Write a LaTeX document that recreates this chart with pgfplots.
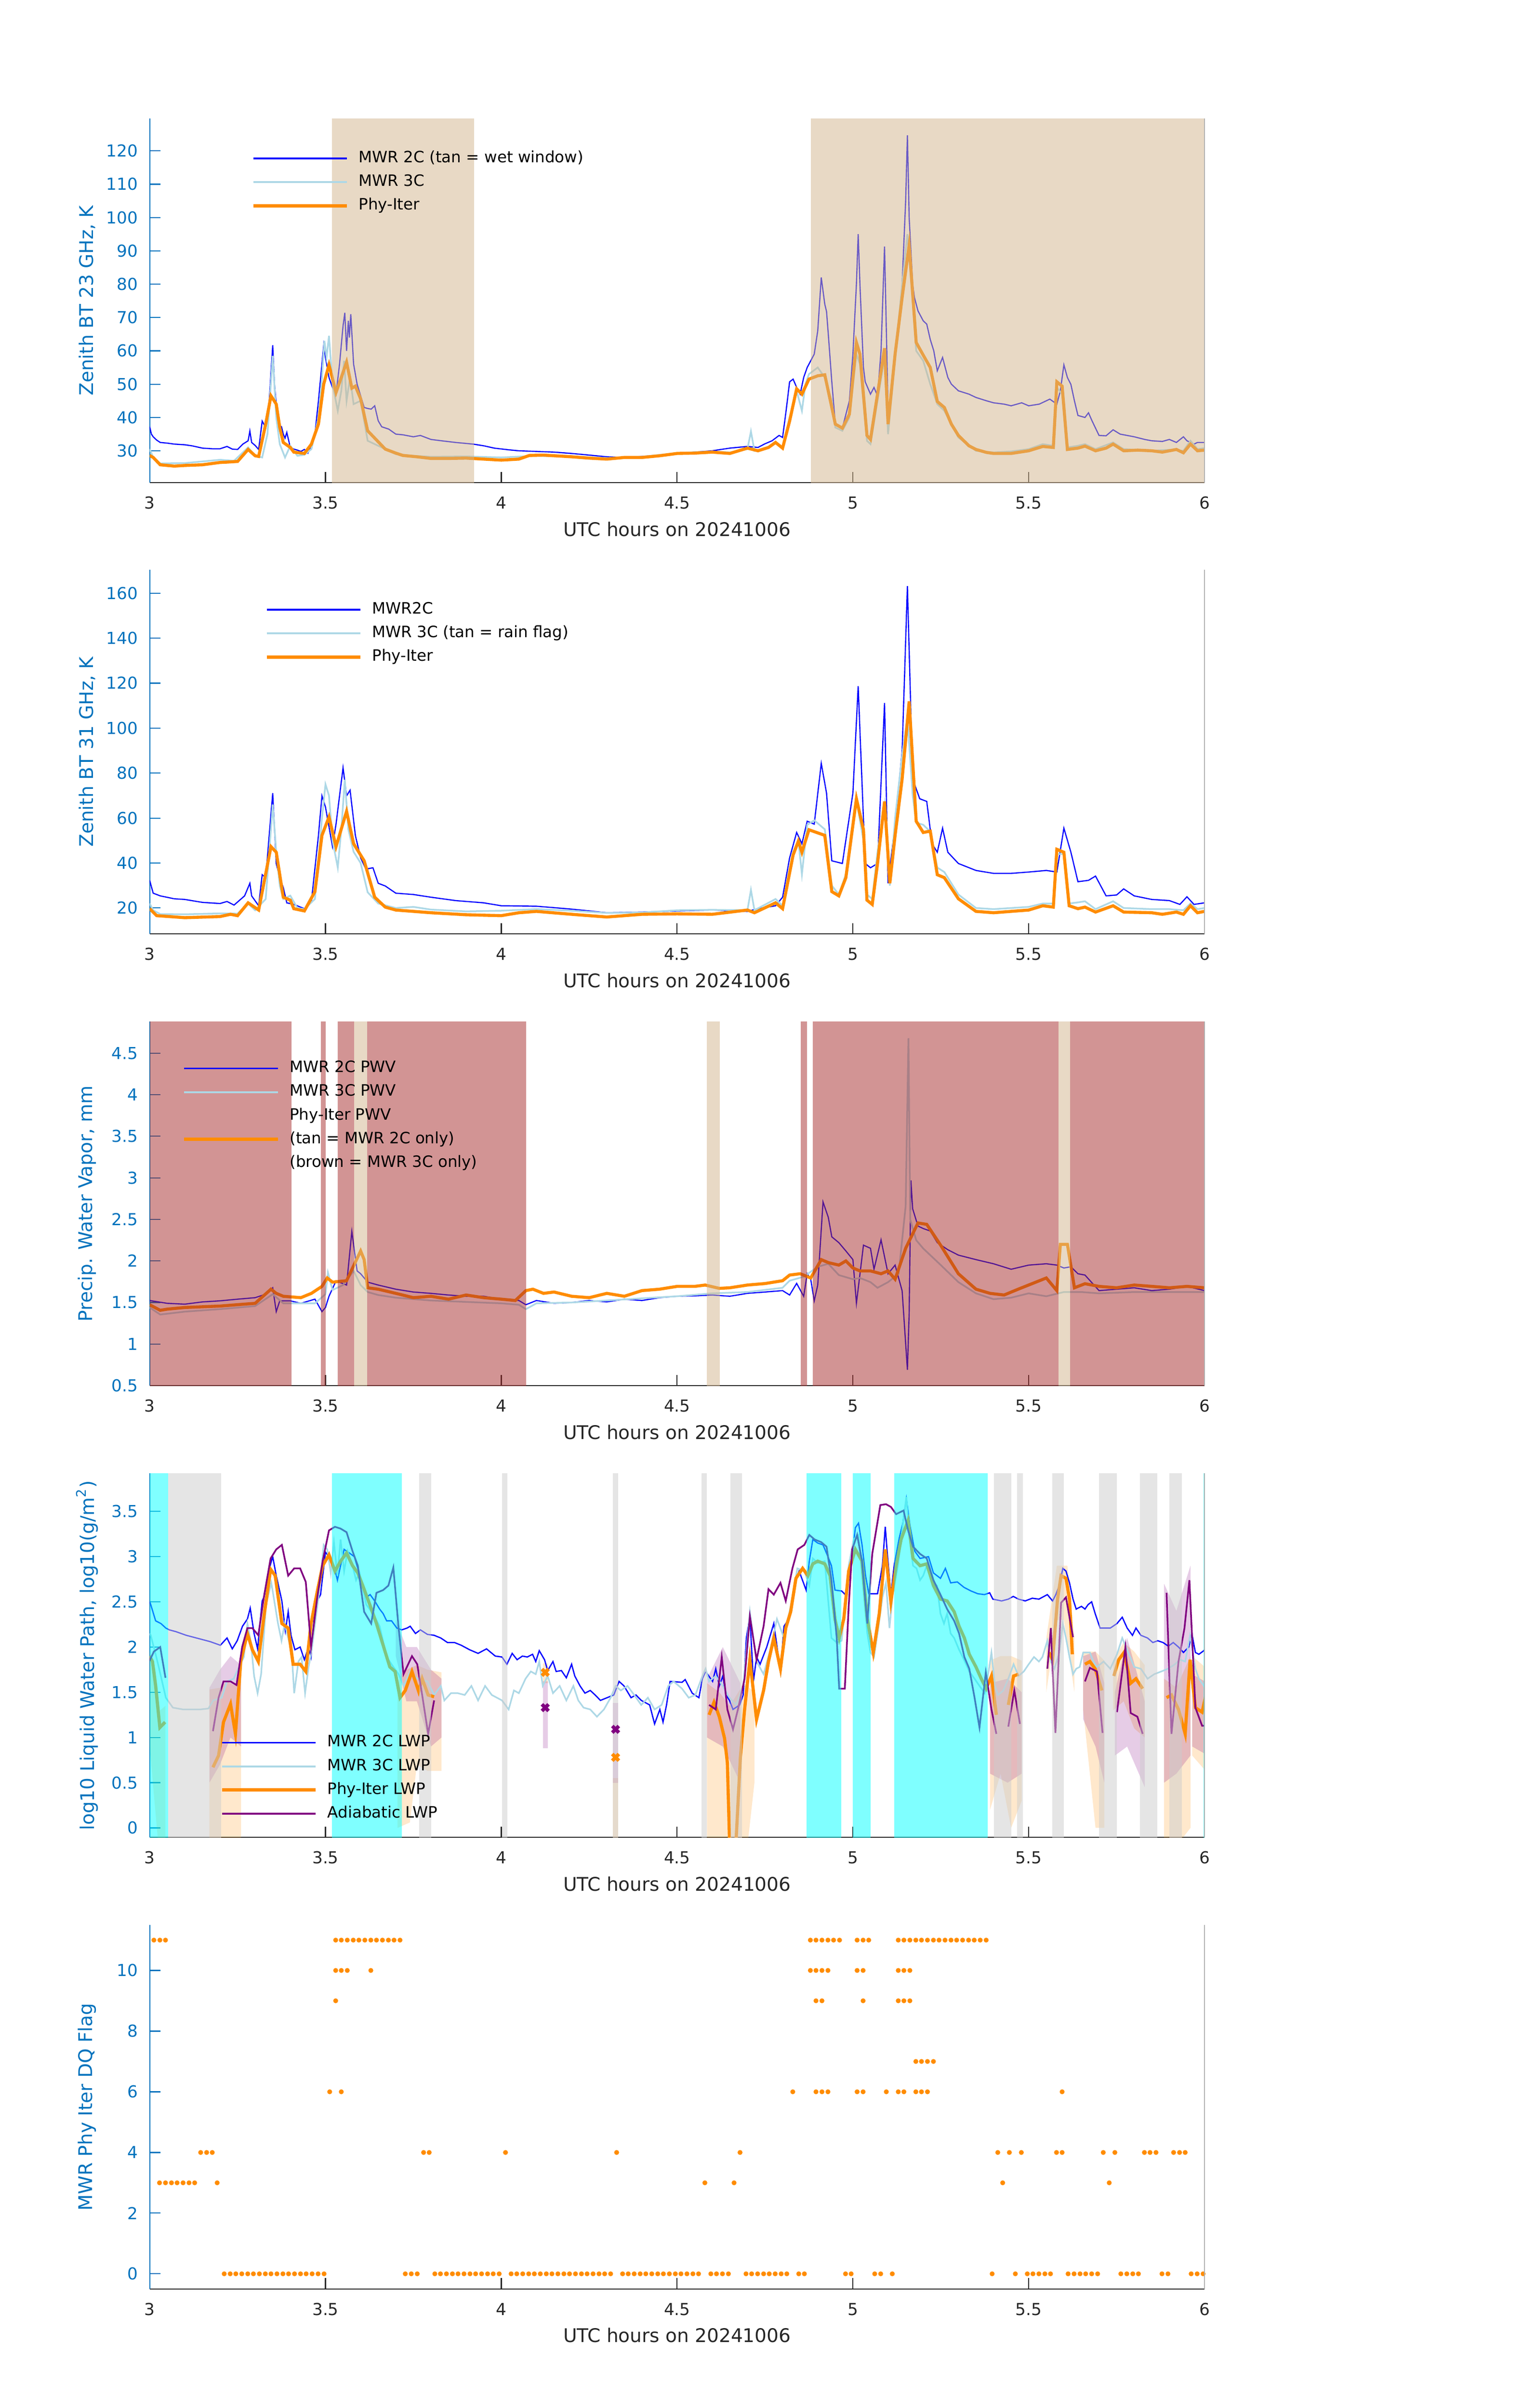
\documentclass[border=0pt]{standalone}
\usepackage{fontspec}
\setmainfont{DejaVu Sans}
\usepackage{pgfplots}
\pgfplotsset{compat=1.18}
\definecolor{mblue}{RGB}{0,114,189}
\definecolor{dorange}{RGB}{255,140,0}
\definecolor{lblue}{RGB}{173,216,230}
\definecolor{ctan}{RGB}{210,180,140}
\definecolor{cbrown}{RGB}{165,42,42}
\definecolor{cpurple}{RGB}{128,0,128}
\definecolor{ccyan}{RGB}{0,255,255}
\definecolor{cgray}{RGB}{204,204,204}
\definecolor{axdark}{RGB}{38,38,38}
\newcommand{\tickfont}{\fontsize{7.8}{9}\selectfont}
\newcommand{\labfont}{\fontsize{8.9}{10.5}\selectfont}
\newcommand{\legfont}{\fontsize{7.4}{9}\selectfont}
\pgfplotsset{
  panel/.style={
    scale only axis, width=17.515cm, height=6.047cm,
    anchor=south west,
    xmin=3, xmax=6,
    axis x line*=bottom, axis y line*=left,
    x axis line style={axdark, line width=0.5pt, -},
    y axis line style={mblue, line width=0.5pt, -},
    tick align=inside,
    major tick length=0.18cm,
    xtick={3,3.5,4,4.5,5,5.5,6},
    xticklabels={3,3.5,4,4.5,5,5.5,6},
    x tick style={axdark, line width=0.5pt},
    y tick style={mblue, line width=0.5pt},
    /pgf/number format/assume math mode=true,
    xticklabel style={font=\tickfont, text=axdark, inner sep=0pt, anchor=center, yshift=-0.337cm},
    yticklabel style={font=\tickfont, text=mblue, inner sep=0pt, anchor=east, xshift=-0.19cm},
    every axis x label/.style={at={(axis description cs:0.5,-0.1277)}, anchor=center, font=\labfont, text=axdark},
    every axis y label/.style={at={(axis description cs:-0.0594,0.5)}, rotate=90, anchor=center, font=\labfont, text=mblue},
    xlabel={UTC hours on 20241006},
    unbounded coords=jump,
    legend cell align=left,
    legend style={draw=none, fill=none, font=\legfont, inner sep=0pt, anchor=north west,
      row sep=4.2pt, column sep=0.17cm,
      nodes={inner sep=0pt, text height=5.4pt, text depth=1.6pt}},
    legend image code/.code={\draw[##1] (0cm,0cm) -- (1.553cm,0cm);},
    extra description/.code={\draw[black!30, line width=0.4pt] (1,0) -- (1,1);},
  },
  patch/.style={draw=none, fill opacity=0.5, forget plot},
}
\begin{document}
\begin{tikzpicture}
\path[use as bounding box] (0,0) rectangle (25.5cm,40cm);

% ---------------- Panel 1 ----------------
\begin{axis}[panel, at={(2.485cm,31.983cm)}, ymin=20.45, ymax=129.7,
  ytick={30,40,50,60,70,80,90,100,110,120},
  ylabel={Zenith BT 23 GHz, K},
  legend style={at={(0.0963,0.912)}}]
\addlegendimage{blue, line width=0.8pt}\addlegendentry{MWR 2C (tan = wet window)}
\addlegendimage{lblue, line width=0.9pt}\addlegendentry{MWR 3C}
\addlegendimage{dorange, line width=1.6pt}\addlegendentry{Phy-Iter}
\addplot[blue, line width=0.55pt, forget plot] coordinates {
(3.0,37.2)(3.005,35)(3.01,34.2)(3.02,33.2)(3.03,32.5)(3.05,32.3)(3.07,32)(3.1,31.8)(3.12,31.5)(3.15,30.8)(3.18,30.6)(3.2,30.6)(3.22,31.3)(3.235,30.5)(3.25,30.4)(3.265,32)(3.28,33)(3.285,35.9)(3.29,32.5)(3.3,31.6)(3.31,30.4)(3.32,38.9)(3.33,37)(3.34,45)(3.35,61.7)(3.355,50)(3.365,38)(3.375,37.2)(3.38,35)(3.385,33.8)(3.39,35.5)(3.4,31)(3.41,30.5)(3.42,30.2)(3.43,29.8)(3.44,30.4)(3.45,29.3)(3.46,31.7)(3.47,35)(3.48,45)(3.49,56)(3.495,61.7)(3.5,58)(3.51,52)(3.52,49)(3.53,47)(3.54,56)(3.55,67.5)(3.555,71.4)(3.56,60)(3.565,69)(3.568,64)(3.572,71)(3.58,56)(3.59,50)(3.6,46.5)(3.61,43)(3.62,42.7)(3.63,42.5)(3.64,43.5)(3.65,39)(3.66,37.2)(3.68,36.5)(3.7,35)(3.72,34.8)(3.75,34.2)(3.77,34.6)(3.8,33.4)(3.83,33)(3.87,32.5)(3.9,32.2)(3.92,32)(3.95,31.5)(3.98,30.8)(4.02,30.3)(4.05,30)(4.1,29.8)(4.15,29.6)(4.2,29.2)(4.25,28.7)(4.3,28.2)(4.35,27.9)(4.4,28.3)(4.45,28.7)(4.5,29.2)(4.55,29.6)(4.6,30)(4.65,30.8)(4.7,31.3)(4.73,31)(4.75,32.1)(4.77,33)(4.79,34.6)(4.8,34)(4.81,42)(4.82,50.7)(4.83,51.5)(4.84,49)(4.85,47)(4.86,52)(4.87,55)(4.89,59)(4.9,66)(4.91,82)(4.92,74)(4.925,71.8)(4.93,65)(4.94,50.7)(4.95,38)(4.97,36.8)(4.99,45)(5.0,59)(5.01,80)(5.015,95)(5.02,80)(5.03,55)(5.035,50.7)(5.05,47)(5.06,49)(5.07,46.5)(5.08,60)(5.09,91.3)(5.1,42)(5.11,48)(5.12,59)(5.13,68)(5.14,80)(5.15,105)(5.155,124.7)(5.16,100)(5.17,80)(5.175,76)(5.185,72)(5.2,69)(5.21,68)(5.22,63.4)(5.23,60)(5.24,54)(5.255,58)(5.27,52)(5.28,50)(5.3,48)(5.33,47)(5.35,46)(5.38,45)(5.4,44.4)(5.43,44)(5.45,43.5)(5.48,44.4)(5.5,43.5)(5.53,44)(5.56,45.5)(5.58,44)(5.59,48)(5.6,55.8)(5.61,52)(5.62,49.9)(5.63,45)(5.64,40.6)(5.66,40)(5.67,41.4)(5.68,39)(5.7,34.6)(5.72,34.5)(5.74,36.3)(5.76,35)(5.8,34.2)(5.83,33.4)(5.85,33)(5.88,32.8)(5.9,33.4)(5.92,32.5)(5.94,34.2)(5.95,33)(5.97,32)(5.98,32.5)(6.0,32.5)};
\addplot[lblue, line width=0.8pt, forget plot] coordinates {
(3.0,30.5)(3.01,28)(3.03,26.2)(3.1,26.3)(3.2,27.3)(3.24,27)(3.28,31)(3.3,28.5)(3.32,28)(3.335,35)(3.35,58.5)(3.36,40)(3.37,32)(3.385,28)(3.4,31.5)(3.42,28.5)(3.44,28.8)(3.46,30.5)(3.48,40)(3.49,52)(3.497,63)(3.503,58)(3.51,64.5)(3.52,50)(3.535,42)(3.545,48)(3.553,57)(3.56,45)(3.57,52)(3.58,44)(3.6,45)(3.62,33)(3.65,31.5)(3.7,29)(3.75,28.5)(3.8,28.2)(3.9,28.3)(4.0,28)(4.1,28.5)(4.2,28.2)(4.3,27.8)(4.4,28.2)(4.5,29.3)(4.6,29.8)(4.65,29.5)(4.7,30.5)(4.71,35.8)(4.72,30)(4.75,30.5)(4.78,32.5)(4.8,31)(4.82,40)(4.84,48)(4.855,42)(4.865,50)(4.875,53)(4.9,55)(4.92,52)(4.94,45)(4.95,37)(4.97,36)(4.99,40)(5.01,59)(5.02,56)(5.04,33)(5.05,32)(5.07,45)(5.09,58)(5.1,35)(5.12,58)(5.14,80)(5.155,95)(5.17,75)(5.18,60)(5.2,57)(5.22,50)(5.24,44)(5.26,42)(5.3,34)(5.35,30)(5.4,29.5)(5.45,29.8)(5.5,30.5)(5.54,32)(5.57,31.5)(5.58,49)(5.595,47)(5.61,31)(5.64,31.5)(5.66,32)(5.69,30.5)(5.74,32.5)(5.77,30.5)(5.85,30)(5.9,30.3)(5.94,30)(5.96,33)(5.98,30.5)(6.0,30.8)};
\addplot[dorange, line width=1.45pt, forget plot] coordinates {
(3.0,28.6)(3.01,28)(3.03,25.8)(3.07,25.4)(3.1,25.6)(3.15,25.8)(3.2,26.5)(3.22,26.6)(3.25,26.8)(3.28,30.4)(3.3,28.5)(3.31,28.3)(3.33,38)(3.345,46.5)(3.36,44)(3.37,37)(3.38,32.5)(3.4,31)(3.41,29.6)(3.44,29.2)(3.46,32)(3.48,38)(3.495,50)(3.51,55.8)(3.53,47.5)(3.545,52)(3.56,56.6)(3.575,48.8)(3.585,49.4)(3.6,45.6)(3.62,36)(3.64,33.8)(3.67,30.5)(3.7,29.3)(3.72,28.6)(3.76,28.2)(3.8,27.7)(3.85,27.7)(3.9,27.8)(3.95,27.5)(4.0,27.2)(4.05,27.5)(4.08,28.6)(4.12,28.7)(4.2,28.2)(4.25,27.8)(4.3,27.5)(4.35,28)(4.4,28)(4.45,28.5)(4.5,29.2)(4.55,29.3)(4.6,29.6)(4.65,29.2)(4.7,30.8)(4.73,30)(4.76,31)(4.78,32.5)(4.8,30.8)(4.82,38.9)(4.84,48.6)(4.855,47)(4.875,51.5)(4.9,52.5)(4.92,52.8)(4.94,43)(4.95,38)(4.97,36.8)(4.99,41)(5.01,62.5)(5.02,59)(5.04,34.6)(5.05,33.4)(5.07,47)(5.09,60.8)(5.1,38)(5.12,59)(5.14,76)(5.16,91.7)(5.18,62.5)(5.2,58.7)(5.22,55)(5.24,44.8)(5.26,43)(5.28,38)(5.3,34.6)(5.33,31.5)(5.35,30.4)(5.38,29.5)(5.4,29.2)(5.45,29.2)(5.5,30)(5.54,31.3)(5.57,31)(5.58,50.7)(5.595,49.4)(5.61,30.4)(5.64,30.8)(5.66,31.4)(5.69,30)(5.72,30.8)(5.74,32)(5.77,30)(5.81,30.2)(5.85,30)(5.88,29.6)(5.92,30.4)(5.94,29.4)(5.96,32)(5.98,30)(6.0,30.2)};
\addplot[patch, fill=ctan] coordinates {(3.518,0)(3.9225,0)(3.9225,200)(3.518,200)} -- cycle;
\addplot[patch, fill=ctan] coordinates {(4.88,0)(6.01,0)(6.01,200)(4.88,200)} -- cycle;
\end{axis}

% ---------------- Panel 2 ----------------
\begin{axis}[panel, at={(2.485cm,24.487cm)}, ymin=8.5, ymax=170.4,
  ytick={20,40,60,80,100,120,140,160},
  ylabel={Zenith BT 31 GHz, K},
  legend style={at={(0.109,0.912)}}]
\addlegendimage{blue, line width=0.8pt}\addlegendentry{MWR2C}
\addlegendimage{lblue, line width=0.9pt}\addlegendentry{MWR 3C (tan = rain flag)}
\addlegendimage{dorange, line width=1.6pt}\addlegendentry{Phy-Iter}
\addplot[blue, line width=0.55pt, forget plot] coordinates {
(3.0,32.3)(3.01,26.6)(3.03,25.4)(3.07,24.1)(3.1,23.8)(3.15,22.5)(3.2,22)(3.22,22.9)(3.24,21.3)(3.27,25.4)(3.285,31)(3.29,25.4)(3.31,21)(3.32,34.8)(3.33,33.5)(3.35,71.1)(3.36,39.8)(3.37,33.5)(3.38,29.1)(3.39,22.3)(3.41,21.6)(3.44,19.7)(3.46,22.9)(3.48,52.3)(3.49,69.9)(3.5,64.9)(3.52,47.3)(3.53,57.3)(3.55,82.4)(3.56,69.9)(3.57,72.4)(3.585,52.3)(3.6,42.3)(3.615,37.3)(3.635,37.9)(3.65,31)(3.67,29.8)(3.7,26.6)(3.75,26)(3.8,24.8)(3.87,23.3)(3.95,22.3)(4.0,21)(4.1,20.8)(4.2,19.5)(4.3,17.9)(4.4,18.2)(4.5,18.7)(4.6,19.1)(4.7,18.5)(4.73,19.7)(4.78,21)(4.8,24.8)(4.82,42.3)(4.84,53.6)(4.855,48.6)(4.87,58.6)(4.89,57.3)(4.91,84.3)(4.925,71.1)(4.94,41)(4.97,39.8)(5.0,71.1)(5.015,118.7)(5.035,39.8)(5.05,37.9)(5.07,39.8)(5.09,111.2)(5.1,31)(5.12,57.3)(5.14,89.9)(5.155,163.2)(5.17,77.4)(5.19,68.6)(5.21,67.4)(5.225,48.6)(5.24,44.8)(5.255,55.5)(5.27,44.8)(5.3,39.8)(5.35,36.7)(5.4,35.4)(5.45,35.4)(5.5,36)(5.55,36.7)(5.58,36)(5.6,55.5)(5.62,44.8)(5.64,31.7)(5.67,32.3)(5.69,34.2)(5.72,25.4)(5.75,25.8)(5.77,28.5)(5.8,25.4)(5.85,23.8)(5.9,23.3)(5.93,21.6)(5.95,25)(5.97,21.6)(6.0,22.3)};
\addplot[lblue, line width=0.8pt, forget plot] coordinates {
(3.0,22)(3.01,19)(3.03,17.3)(3.1,17.2)(3.2,17.6)(3.25,17.5)(3.28,22)(3.3,19)(3.33,24)(3.35,66)(3.36,45)(3.37,30)(3.38,24)(3.4,25.5)(3.42,20)(3.44,19.5)(3.47,24)(3.49,60)(3.5,75)(3.51,70)(3.52,50)(3.535,38)(3.545,55)(3.555,77)(3.565,55)(3.58,45)(3.6,40)(3.62,27)(3.65,22)(3.7,20)(3.75,20.5)(3.8,19.3)(3.9,18.5)(4.0,18.8)(4.1,19.5)(4.2,18.8)(4.3,17.8)(4.4,18)(4.5,19)(4.6,19.2)(4.7,19)(4.71,28)(4.72,19)(4.78,24)(4.8,21)(4.83,45)(4.845,50)(4.855,35)(4.87,57)(4.89,59)(4.92,55)(4.94,30)(4.96,26)(4.98,35)(5.01,68)(5.03,50)(5.04,26)(5.055,24)(5.07,45)(5.09,66)(5.105,30)(5.12,60)(5.14,88)(5.155,105)(5.17,70)(5.18,58)(5.2,57)(5.22,54)(5.24,38)(5.26,36)(5.3,26)(5.35,20)(5.4,19.5)(5.45,20)(5.5,20.5)(5.54,22)(5.57,22)(5.58,44)(5.6,44)(5.615,22)(5.64,22.5)(5.66,23)(5.69,19.5)(5.74,23)(5.77,20)(5.85,19.5)(5.9,19.5)(5.94,19)(5.96,22)(5.98,19.5)(6.0,20)};
\addplot[dorange, line width=1.45pt, forget plot] coordinates {
(3.0,19.7)(3.02,16.6)(3.1,15.7)(3.2,16.2)(3.23,17.2)(3.25,16.6)(3.28,22.3)(3.31,19.1)(3.345,47.3)(3.36,44.8)(3.38,24.8)(3.4,23.5)(3.41,19.7)(3.44,18.7)(3.47,27.3)(3.49,52.3)(3.51,60.5)(3.53,47.3)(3.56,63)(3.58,48.6)(3.61,41)(3.64,24.8)(3.67,20.4)(3.7,19.1)(3.75,18.5)(3.8,17.9)(3.9,17)(4.0,16.6)(4.05,17.9)(4.1,18.5)(4.2,17.2)(4.3,16)(4.4,17.2)(4.5,17.4)(4.6,17.2)(4.7,19.1)(4.72,17.9)(4.78,22.3)(4.8,19.7)(4.83,43.6)(4.845,49.8)(4.855,44.8)(4.875,54.8)(4.92,52.3)(4.94,27.3)(4.96,25.4)(4.98,33.5)(5.01,68.6)(5.03,54.8)(5.04,23.5)(5.055,21.6)(5.07,39.8)(5.09,67.4)(5.105,31)(5.12,52.3)(5.14,77.4)(5.16,111.9)(5.18,58.6)(5.2,53.6)(5.22,54.2)(5.24,34.8)(5.26,33.5)(5.3,24.1)(5.35,18.5)(5.4,17.9)(5.45,18.5)(5.5,19.1)(5.54,21)(5.57,20.4)(5.58,46.1)(5.6,44.8)(5.615,21)(5.64,19.7)(5.66,20.4)(5.69,18.2)(5.74,21)(5.77,18.2)(5.85,17.9)(5.88,17.2)(5.92,18.2)(5.94,17.2)(5.96,21)(5.98,17.9)(6.0,18.5)};
\end{axis}

% ---------------- Panel 3 ----------------
\begin{axis}[panel, at={(2.485cm,16.983cm)}, ymin=0.5, ymax=4.88,
  ytick={0.5,1,1.5,2,2.5,3,3.5,4,4.5},
  ylabel={Precip. Water Vapor, mm},
  legend style={at={(0.0308,0.893)}}]
\addlegendimage{blue, line width=0.8pt}\addlegendentry{MWR 2C PWV}
\addlegendimage{lblue, line width=0.9pt}\addlegendentry{MWR 3C PWV}
\addlegendimage{empty legend}\addlegendentry{Phy-Iter PWV}
\addlegendimage{dorange, line width=1.6pt}\addlegendentry{(tan = MWR 2C only)}
\addlegendimage{empty legend}\addlegendentry{(brown = MWR 3C only)}
\addplot[blue, line width=0.55pt, forget plot] coordinates {
(3.0,1.524)(3.05,1.49)(3.1,1.48)(3.15,1.507)(3.2,1.52)(3.25,1.54)(3.3,1.558)(3.33,1.6)(3.35,1.677)(3.36,1.39)(3.37,1.52)(3.4,1.52)(3.43,1.49)(3.47,1.54)(3.49,1.39)(3.5,1.44)(3.51,1.575)(3.53,1.76)(3.56,1.71)(3.575,2.355)(3.59,1.88)(3.6,1.846)(3.62,1.745)(3.65,1.71)(3.7,1.66)(3.75,1.626)(3.8,1.61)(3.85,1.59)(3.9,1.575)(3.95,1.575)(4.0,1.54)(4.05,1.524)(4.07,1.473)(4.1,1.524)(4.15,1.49)(4.2,1.5)(4.25,1.524)(4.3,1.507)(4.35,1.54)(4.4,1.524)(4.45,1.558)(4.5,1.575)(4.55,1.58)(4.6,1.59)(4.65,1.575)(4.7,1.61)(4.75,1.626)(4.8,1.643)(4.82,1.59)(4.84,1.73)(4.86,1.575)(4.87,1.846)(4.88,1.78)(4.89,1.52)(4.9,1.71)(4.915,2.71)(4.93,2.525)(4.94,2.29)(4.96,2.22)(4.98,2.12)(5.0,2.016)(5.01,1.49)(5.03,2.19)(5.05,2.152)(5.06,1.9)(5.08,2.254)(5.1,1.846)(5.12,1.95)(5.14,1.64)(5.155,0.69)(5.16,1.37)(5.165,2.97)(5.17,2.627)(5.185,2.42)(5.2,2.39)(5.22,2.36)(5.24,2.22)(5.27,2.135)(5.3,2.07)(5.35,2.016)(5.4,1.966)(5.45,1.9)(5.5,1.95)(5.55,1.966)(5.58,1.95)(5.6,1.915)(5.62,1.93)(5.64,1.846)(5.66,1.83)(5.7,1.643)(5.75,1.66)(5.8,1.677)(5.85,1.643)(5.9,1.66)(5.95,1.694)(6.0,1.643)};
\addplot[lblue, line width=0.8pt, forget plot] coordinates {
(3.0,1.44)(3.03,1.355)(3.1,1.39)(3.2,1.42)(3.3,1.457)(3.35,1.6)(3.38,1.49)(3.43,1.49)(3.47,1.49)(3.5,1.6)(3.507,1.86)(3.52,1.65)(3.55,1.71)(3.58,1.88)(3.6,1.71)(3.62,1.626)(3.65,1.59)(3.7,1.558)(3.8,1.524)(3.9,1.507)(4.0,1.49)(4.05,1.473)(4.07,1.42)(4.1,1.49)(4.2,1.5)(4.3,1.524)(4.4,1.55)(4.5,1.575)(4.6,1.61)(4.7,1.626)(4.8,1.677)(4.82,1.762)(4.86,1.81)(4.9,1.93)(4.93,1.966)(4.96,1.83)(5.0,1.78)(5.02,1.795)(5.05,1.745)(5.07,1.677)(5.1,1.745)(5.13,1.846)(5.15,2.66)(5.158,4.68)(5.163,2.5)(5.18,2.25)(5.2,2.15)(5.25,1.95)(5.3,1.745)(5.35,1.61)(5.4,1.54)(5.45,1.558)(5.5,1.61)(5.55,1.575)(5.6,1.626)(5.65,1.626)(5.7,1.61)(5.8,1.626)(5.9,1.626)(6.0,1.626)};
\addplot[dorange, line width=1.45pt, forget plot] coordinates {
(3.0,1.473)(3.03,1.406)(3.05,1.42)(3.1,1.44)(3.2,1.457)(3.3,1.49)(3.345,1.66)(3.36,1.61)(3.38,1.575)(3.43,1.558)(3.46,1.61)(3.49,1.694)(3.505,1.795)(3.52,1.745)(3.56,1.762)(3.6,2.12)(3.61,2.016)(3.62,1.677)(3.65,1.66)(3.7,1.61)(3.75,1.558)(3.8,1.575)(3.85,1.54)(3.9,1.59)(3.95,1.558)(4.0,1.54)(4.04,1.524)(4.07,1.643)(4.09,1.66)(4.12,1.61)(4.15,1.626)(4.2,1.575)(4.25,1.558)(4.3,1.61)(4.35,1.575)(4.4,1.643)(4.45,1.66)(4.5,1.694)(4.55,1.694)(4.58,1.71)(4.62,1.67)(4.65,1.677)(4.7,1.71)(4.75,1.728)(4.8,1.762)(4.82,1.83)(4.85,1.846)(4.88,1.795)(4.91,2.016)(4.93,1.98)(4.96,1.95)(4.98,2.0)(5.0,1.915)(5.02,1.88)(5.05,1.88)(5.08,1.846)(5.1,1.88)(5.12,1.78)(5.15,2.152)(5.185,2.457)(5.21,2.44)(5.25,2.186)(5.3,1.846)(5.35,1.66)(5.39,1.61)(5.43,1.59)(5.47,1.66)(5.55,1.795)(5.58,1.643)(5.59,2.2)(5.61,2.2)(5.63,1.677)(5.66,1.726)(5.7,1.694)(5.75,1.677)(5.8,1.71)(5.85,1.694)(5.9,1.677)(5.95,1.694)(6.0,1.677)};
\addplot[patch, fill=cbrown] coordinates {(3.0,0)(3.404,0)(3.404,9)(3.0,9)} -- cycle;
\addplot[patch, fill=cbrown] coordinates {(3.487,0)(3.501,0)(3.501,9)(3.487,9)} -- cycle;
\addplot[patch, fill=cbrown] coordinates {(3.535,0)(3.582,0)(3.582,9)(3.535,9)} -- cycle;
\addplot[patch, fill=ctan] coordinates {(3.582,0)(3.618,0)(3.618,9)(3.582,9)} -- cycle;
\addplot[patch, fill=cbrown] coordinates {(3.618,0)(4.07,0)(4.07,9)(3.618,9)} -- cycle;
\addplot[patch, fill=ctan] coordinates {(4.585,0)(4.621,0)(4.621,9)(4.585,9)} -- cycle;
\addplot[patch, fill=cbrown] coordinates {(4.852,0)(4.869,0)(4.869,9)(4.852,9)} -- cycle;
\addplot[patch, fill=cbrown] coordinates {(4.886,0)(5.585,0)(5.585,9)(4.886,9)} -- cycle;
\addplot[patch, fill=ctan] coordinates {(5.585,0)(5.618,0)(5.618,9)(5.585,9)} -- cycle;
\addplot[patch, fill=cbrown] coordinates {(5.618,0)(6.01,0)(6.01,9)(5.618,9)} -- cycle;
\end{axis}

% ---------------- Panel 4 ----------------
\begin{axis}[panel, at={(2.485cm,9.477cm)}, ymin=-0.106, ymax=3.92,
  ytick={0,0.5,1,1.5,2,2.5,3,3.5},
  ylabel={log10 Liquid Water Path, log10(g/m\textsuperscript{2})},
  legend style={at={(0.0666,0.282)}}]
\addlegendimage{blue, line width=0.8pt}\addlegendentry{MWR 2C LWP}
\addlegendimage{lblue, line width=0.9pt}\addlegendentry{MWR 3C LWP}
\addlegendimage{dorange, line width=1.6pt}\addlegendentry{Phy-Iter LWP}
\addlegendimage{cpurple, line width=0.9pt}\addlegendentry{Adiabatic LWP}
% uncertainty bands
\addplot[draw=none, fill=dorange, fill opacity=0.2, forget plot] coordinates {(3.0,1.95)(3.017,1.75)(3.03,1.3)(3.045,1.35)(3.045,-0.2)(3.025,-0.2)(3.0,0.9)} -- cycle;
\addplot[draw=none, fill=dorange, fill opacity=0.2, forget plot] coordinates {(3.17,1.53)(3.2,1.55)(3.22,1.62)(3.24,1.58)(3.26,1.65)(3.26,-0.2)(3.17,-0.2)} -- cycle;
\addplot[draw=none, fill=dorange, fill opacity=0.2, forget plot] coordinates {(3.705,1.6)(3.72,1.73)(3.76,1.8)(3.79,1.75)(3.83,1.72)(3.83,0.63)(3.79,0.63)(3.76,0.7)(3.74,0.06)(3.705,0.0)} -- cycle;
\addplot[draw=none, fill=dorange, fill opacity=0.2, forget plot] coordinates {(4.118,1.82)(4.132,1.82)(4.132,1.6)(4.118,1.6)} -- cycle;
\addplot[draw=none, fill=dorange, fill opacity=0.2, forget plot] coordinates {(4.318,0.55)(4.332,0.55)(4.332,-0.2)(4.318,-0.2)} -- cycle;
\addplot[draw=none, fill=dorange, fill opacity=0.2, forget plot] coordinates {(4.585,1.6)(4.62,1.5)(4.65,1.35)(4.69,1.6)(4.72,1.5)(4.72,0.5)(4.7,-0.2)(4.585,-0.2)} -- cycle;
\addplot[draw=none, fill=dorange, fill opacity=0.2, forget plot] coordinates {(5.39,1.85)(5.42,1.9)(5.45,1.9)(5.48,1.85)(5.48,0.3)(5.45,0.0)(5.42,0.6)(5.39,0.2)} -- cycle;
\addplot[draw=none, fill=dorange, fill opacity=0.2, forget plot] coordinates {(5.55,2.1)(5.58,2.9)(5.61,2.9)(5.63,2.1)(5.63,1.5)(5.6,2.3)(5.58,2.3)(5.55,1.5)} -- cycle;
\addplot[draw=none, fill=dorange, fill opacity=0.2, forget plot] coordinates {(5.655,1.95)(5.69,1.95)(5.715,1.85)(5.715,0.0)(5.69,0.0)(5.655,1.3)} -- cycle;
\addplot[draw=none, fill=dorange, fill opacity=0.2, forget plot] coordinates {(5.74,1.85)(5.77,2.05)(5.8,1.95)(5.83,1.8)(5.83,1.0)(5.8,1.1)(5.77,1.4)(5.74,1.3)} -- cycle;
\addplot[draw=none, fill=dorange, fill opacity=0.2, forget plot] coordinates {(5.885,1.65)(5.92,1.55)(5.96,1.9)(5.96,0.0)(5.92,-0.2)(5.885,-0.2)} -- cycle;
\addplot[draw=none, fill=dorange, fill opacity=0.2, forget plot] coordinates {(5.965,1.9)(6.01,1.75)(6.01,0.6)(5.965,0.8)} -- cycle;
\addplot[draw=none, fill=cpurple, fill opacity=0.2, forget plot] coordinates {(3.17,1.55)(3.2,1.75)(3.23,1.9)(3.26,1.8)(3.26,0.9)(3.23,1.0)(3.2,0.7)(3.17,0.5)} -- cycle;
\addplot[draw=none, fill=cpurple, fill opacity=0.2, forget plot] coordinates {(3.70,2.3)(3.73,2.0)(3.76,2.0)(3.8,1.75)(3.83,1.65)(3.83,1.0)(3.8,0.9)(3.76,1.4)(3.73,1.4)(3.70,1.9)} -- cycle;
\addplot[draw=none, fill=cpurple, fill opacity=0.2, forget plot] coordinates {(4.118,1.62)(4.132,1.62)(4.132,0.88)(4.118,0.88)} -- cycle;
\addplot[draw=none, fill=cpurple, fill opacity=0.2, forget plot] coordinates {(4.318,1.38)(4.332,1.38)(4.332,0.5)(4.318,0.5)} -- cycle;
\addplot[draw=none, fill=cpurple, fill opacity=0.2, forget plot] coordinates {(4.585,1.65)(4.63,2.0)(4.68,1.6)(4.68,0.5)(4.63,0.9)(4.585,1.0)} -- cycle;
\addplot[draw=none, fill=cpurple, fill opacity=0.2, forget plot] coordinates {(5.39,1.6)(5.44,1.65)(5.48,1.5)(5.48,0.6)(5.44,0.5)(5.39,0.6)} -- cycle;
\addplot[draw=none, fill=cpurple, fill opacity=0.2, forget plot] coordinates {(5.655,1.9)(5.69,1.95)(5.715,1.6)(5.715,0.5)(5.69,0.9)(5.655,1.2)} -- cycle;
\addplot[draw=none, fill=cpurple, fill opacity=0.2, forget plot] coordinates {(5.745,1.5)(5.78,2.1)(5.83,1.4)(5.83,0.45)(5.78,0.9)(5.745,0.8)} -- cycle;
\addplot[draw=none, fill=cpurple, fill opacity=0.2, forget plot] coordinates {(5.885,2.7)(5.92,2.4)(5.96,2.9)(5.96,0.8)(5.92,0.6)(5.885,0.5)} -- cycle;
\addplot[draw=none, fill=cpurple, fill opacity=0.2, forget plot] coordinates {(5.965,1.7)(6.01,1.6)(6.01,0.8)(5.965,0.9)} -- cycle;
% MWR 2C LWP
\addplot[blue, line width=0.6pt, forget plot] coordinates {
(3.0,2.5)(3.003,2.47)(3.017,2.29)(3.032,2.26)(3.046,2.21)(3.056,2.19)(3.075,2.17)(3.104,2.13)(3.143,2.09)(3.172,2.06)(3.201,2.02)(3.22,2.10)(3.235,1.98)(3.249,2.07)(3.264,2.23)(3.278,2.31)(3.286,2.43)(3.297,2.15)(3.307,1.98)(3.32,2.51)(3.326,2.56)(3.338,2.84)(3.35,3.0)(3.36,2.79)(3.376,2.51)(3.386,2.18)(3.394,2.39)(3.402,2.13)(3.413,1.97)(3.428,2.0)(3.44,1.86)(3.452,2.0)(3.459,1.89)(3.471,2.47)(3.486,2.58)(3.5,3.05)(3.51,3.0)(3.524,2.9)(3.534,2.74)(3.543,2.9)(3.553,3.08)(3.568,3.04)(3.582,3.0)(3.592,2.87)(3.601,2.71)(3.616,2.55)(3.627,2.58)(3.64,2.51)(3.654,2.42)(3.664,2.37)(3.674,2.29)(3.688,2.29)(3.703,2.21)(3.717,2.19)(3.732,2.21)(3.741,2.23)(3.756,2.15)(3.77,2.19)(3.79,2.14)(3.809,2.13)(3.828,2.10)(3.847,2.05)(3.867,2.05)(3.886,2.02)(3.91,1.97)(3.934,1.93)(3.958,1.98)(3.983,1.90)(4.002,1.89)(4.016,1.81)(4.031,1.93)(4.045,1.86)(4.06,1.90)(4.074,1.89)(4.089,1.92)(4.098,1.84)(4.108,1.96)(4.123,1.86)(4.132,1.74)(4.147,1.84)(4.156,1.73)(4.171,1.74)(4.185,1.66)(4.2,1.81)(4.209,1.68)(4.224,1.57)(4.238,1.49)(4.253,1.52)(4.267,1.47)(4.282,1.41)(4.301,1.44)(4.32,1.47)(4.335,1.62)(4.349,1.57)(4.369,1.44)(4.383,1.47)(4.398,1.41)(4.422,1.36)(4.436,1.15)(4.451,1.31)(4.46,1.17)(4.47,1.36)(4.48,1.62)(4.514,1.61)(4.523,1.64)(4.543,1.49)(4.562,1.44)(4.572,1.65)(4.581,1.73)(4.601,1.62)(4.61,1.76)(4.62,1.57)(4.63,1.68)(4.639,1.47)(4.649,1.41)(4.659,1.31)(4.678,1.36)(4.688,1.47)(4.697,2.10)(4.707,2.34)(4.717,1.62)(4.726,1.89)(4.736,1.81)(4.755,2.0)(4.775,2.26)(4.794,1.73)(4.804,2.23)(4.818,2.31)(4.833,2.68)(4.847,2.84)(4.867,2.63)(4.876,2.95)(4.886,3.19)(4.9,3.15)(4.915,3.13)(4.929,3.0)(4.939,2.9)(4.949,2.63)(4.968,2.62)(4.978,2.58)(4.992,2.82)(5.007,3.32)(5.016,3.37)(5.026,3.13)(5.036,2.79)(5.045,2.59)(5.07,2.59)(5.084,2.9)(5.092,3.33)(5.099,2.98)(5.108,2.58)(5.118,2.92)(5.132,3.21)(5.142,3.37)(5.152,3.64)(5.162,3.35)(5.176,3.06)(5.191,2.98)(5.215,3.0)(5.229,2.82)(5.249,2.76)(5.263,2.87)(5.278,2.71)(5.297,2.72)(5.316,2.66)(5.336,2.62)(5.355,2.59)(5.374,2.58)(5.389,2.60)(5.398,2.53)(5.423,2.51)(5.442,2.53)(5.456,2.56)(5.471,2.53)(5.49,2.51)(5.51,2.54)(5.529,2.53)(5.553,2.58)(5.568,2.51)(5.577,2.58)(5.587,2.68)(5.597,2.87)(5.606,2.84)(5.616,2.71)(5.626,2.53)(5.635,2.42)(5.65,2.45)(5.66,2.42)(5.669,2.47)(5.679,2.50)(5.689,2.37)(5.703,2.21)(5.732,2.21)(5.751,2.26)(5.766,2.33)(5.78,2.21)(5.795,2.13)(5.805,2.21)(5.819,2.13)(5.838,2.10)(5.853,2.05)(5.867,2.07)(5.882,2.05)(5.897,2.01)(5.911,2.05)(5.926,2.0)(5.94,1.94)(5.955,2.0)(5.964,2.15)(5.974,1.94)(5.984,1.92)(5.998,1.96)(6.011,2.02)};
% MWR 3C LWP
\addplot[lblue, line width=0.75pt, forget plot] coordinates {
(3.0,2.15)(3.003,2.13)(3.017,1.92)(3.027,1.76)(3.046,1.44)(3.066,1.33)(3.095,1.31)(3.143,1.31)(3.167,1.32)(3.181,1.41)(3.205,1.44)(3.22,1.62)(3.239,1.65)(3.254,1.78)(3.268,1.89)(3.278,2.26)(3.288,2.05)(3.297,1.68)(3.307,1.49)(3.317,1.70)(3.331,2.47)(3.346,2.71)(3.365,2.26)(3.375,2.07)(3.384,2.26)(3.394,2.10)(3.404,1.94)(3.411,1.49)(3.423,1.84)(3.432,1.89)(3.442,1.49)(3.452,1.78)(3.461,1.97)(3.481,2.58)(3.495,3.13)(3.505,3.08)(3.515,2.82)(3.524,3.16)(3.534,2.79)(3.543,3.19)(3.553,2.84)(3.563,3.06)(3.577,2.90)(3.587,2.74)(3.597,2.82)(3.616,2.47)(3.635,2.37)(3.654,2.23)(3.674,1.89)(3.693,1.78)(3.708,1.70)(3.722,1.57)(3.741,1.73)(3.761,1.65)(3.79,1.62)(3.809,1.47)(3.828,1.57)(3.838,1.41)(3.857,1.49)(3.876,1.49)(3.896,1.47)(3.915,1.57)(3.934,1.41)(3.954,1.57)(3.973,1.47)(4.002,1.41)(4.021,1.31)(4.036,1.52)(4.05,1.49)(4.069,1.65)(4.084,1.73)(4.098,1.70)(4.108,1.84)(4.118,1.57)(4.132,1.68)(4.147,1.49)(4.166,1.57)(4.185,1.41)(4.205,1.57)(4.219,1.41)(4.234,1.33)(4.253,1.31)(4.272,1.23)(4.292,1.31)(4.311,1.44)(4.325,1.57)(4.34,1.52)(4.359,1.57)(4.378,1.47)(4.398,1.36)(4.417,1.44)(4.436,1.31)(4.456,1.36)(4.475,1.57)(4.49,1.62)(4.514,1.54)(4.533,1.44)(4.552,1.47)(4.572,1.68)(4.581,1.76)(4.591,1.62)(4.61,1.68)(4.63,1.57)(4.649,1.44)(4.668,1.36)(4.688,1.57)(4.707,2.39)(4.717,2.10)(4.726,1.84)(4.746,1.70)(4.765,1.97)(4.784,2.31)(4.804,2.10)(4.823,2.45)(4.842,2.87)(4.862,2.84)(4.876,2.68)(4.886,2.98)(4.9,2.93)(4.92,2.95)(4.939,2.10)(4.954,2.05)(4.968,2.07)(4.988,2.90)(5.002,3.19)(5.016,3.24)(5.031,2.58)(5.041,2.15)(5.05,1.94)(5.06,1.89)(5.07,2.15)(5.084,2.55)(5.094,2.71)(5.104,2.21)(5.113,2.58)(5.128,2.90)(5.142,3.35)(5.152,3.66)(5.16,3.24)(5.171,2.90)(5.181,2.87)(5.191,2.74)(5.2,2.79)(5.21,2.90)(5.225,2.71)(5.239,2.68)(5.249,2.37)(5.259,2.26)(5.268,2.37)(5.278,2.15)(5.288,2.10)(5.302,1.97)(5.316,1.86)(5.331,1.73)(5.346,1.65)(5.36,1.57)(5.375,1.49)(5.384,1.68)(5.394,1.94)(5.404,1.57)(5.413,1.47)(5.428,1.52)(5.442,1.65)(5.457,1.81)(5.471,1.68)(5.486,1.73)(5.5,1.81)(5.515,1.89)(5.529,1.84)(5.539,1.89)(5.553,2.07)(5.563,1.84)(5.573,1.76)(5.587,1.94)(5.597,2.26)(5.606,2.10)(5.616,1.89)(5.626,1.70)(5.635,1.76)(5.645,1.78)(5.655,1.94)(5.674,1.94)(5.684,1.84)(5.694,1.78)(5.713,1.84)(5.732,1.76)(5.751,1.92)(5.766,2.10)(5.78,1.97)(5.8,1.78)(5.819,1.76)(5.838,1.65)(5.857,1.70)(5.877,1.73)(5.896,1.76)(5.916,1.81)(5.93,1.86)(5.945,1.84)(5.959,2.13)(5.974,1.76)(5.984,1.65)(5.998,1.57)(6.011,1.78)};
% Phy-Iter LWP
\addplot[dorange, line width=1.5pt, forget plot] coordinates {
(3.0,1.9)(3.008,1.84)(3.017,1.57)(3.029,1.11)(3.044,1.17)(3.05,nan)
(3.18,0.67)(3.196,0.80)(3.21,1.17)(3.23,1.37)(3.244,1.04)(3.259,1.84)(3.278,2.15)(3.292,1.97)(3.309,1.84)(3.324,2.31)(3.344,2.86)(3.357,2.79)(3.376,2.26)(3.394,2.21)(3.408,1.81)(3.428,1.81)(3.444,1.73)(3.459,2.26)(3.476,2.60)(3.492,2.90)(3.51,3.02)(3.527,2.84)(3.543,2.95)(3.56,3.04)(3.577,2.90)(3.592,2.82)(3.606,2.68)(3.626,2.47)(3.645,2.26)(3.664,2.02)(3.683,1.78)(3.698,1.73)(3.712,1.44)(3.727,1.52)(3.746,1.73)(3.765,1.51)(3.775,1.65)(3.792,1.47)(3.809,1.45)(3.82,nan)
(4.591,1.25)(4.605,1.39)(4.62,1.23)(4.635,0.99)(4.643,0.72)(4.649,-0.12)(4.659,-0.13)(4.668,-0.12)(4.68,0.78)(4.692,1.31)(4.707,1.86)(4.726,1.20)(4.746,1.52)(4.76,1.84)(4.775,2.10)(4.794,1.76)(4.809,2.21)(4.823,2.39)(4.838,2.76)(4.857,2.87)(4.872,2.79)(4.886,2.92)(4.9,2.95)(4.92,2.92)(4.935,2.79)(4.949,2.31)(4.961,2.10)(4.974,2.31)(4.988,2.84)(5.007,3.08)(5.026,2.95)(5.041,2.31)(5.058,1.94)(5.075,2.37)(5.092,3.08)(5.108,2.50)(5.123,2.90)(5.137,3.19)(5.157,3.40)(5.171,2.98)(5.191,2.90)(5.21,2.92)(5.229,2.68)(5.249,2.53)(5.268,2.51)(5.288,2.39)(5.302,2.23)(5.317,2.10)(5.331,1.92)(5.35,1.78)(5.365,1.65)(5.379,1.54)(5.394,1.68)(5.408,1.25)(5.42,nan)
(5.442,1.36)(5.457,1.68)(5.471,1.70)(5.48,nan)
(5.558,1.94)(5.568,1.86)(5.582,2.53)(5.592,2.79)(5.606,2.76)(5.616,2.53)(5.624,1.92)(5.63,nan)
(5.66,1.81)(5.674,1.84)(5.689,1.76)(5.708,1.52)(5.72,nan)
(5.742,1.68)(5.756,1.86)(5.771,1.94)(5.79,1.60)(5.805,1.65)(5.824,1.54)(5.83,nan)
(5.892,1.44)(5.906,1.47)(5.926,1.31)(5.945,1.04)(5.959,1.86)(5.974,1.33)(5.993,1.28)(6.008,1.54)};
% Adiabatic LWP
\addplot[cpurple, line width=0.8pt, forget plot] coordinates {
(3.0,1.85)(3.012,1.95)(3.03,2.0)(3.045,1.66)(3.05,nan)
(3.18,1.07)(3.196,1.44)(3.21,1.62)(3.23,1.62)(3.247,1.58)(3.263,2.0)(3.278,2.21)(3.292,2.21)(3.309,2.13)(3.326,2.58)(3.344,2.98)(3.36,3.08)(3.376,3.13)(3.394,2.79)(3.411,2.87)(3.428,2.87)(3.444,2.72)(3.459,2.0)(3.476,2.53)(3.492,2.95)(3.51,3.29)(3.527,3.33)(3.543,3.31)(3.56,3.27)(3.577,3.06)(3.592,2.90)(3.61,2.39)(3.63,2.26)(3.645,2.60)(3.664,2.63)(3.679,2.68)(3.693,2.88)(3.708,2.21)(3.722,1.70)(3.746,1.90)(3.761,1.81)(3.775,1.47)(3.792,1.04)(3.809,1.41)(3.82,nan)
(4.591,1.36)(4.61,1.31)(4.627,1.89)(4.643,1.31)(4.659,1.09)(4.673,1.31)(4.692,1.65)(4.707,2.34)(4.726,1.86)(4.746,2.23)(4.76,2.64)(4.775,2.58)(4.794,2.71)(4.809,2.51)(4.828,2.87)(4.843,3.08)(4.862,3.13)(4.876,3.24)(4.891,3.19)(4.91,3.16)(4.925,3.11)(4.939,2.74)(4.954,2.10)(4.961,1.54)(4.977,1.54)(4.988,2.45)(4.998,3.08)(5.012,3.24)(5.026,2.95)(5.041,2.26)(5.055,3.03)(5.078,3.57)(5.094,3.58)(5.108,3.55)(5.123,3.47)(5.144,3.51)(5.157,3.29)(5.171,3.11)(5.191,3.03)(5.21,2.98)(5.229,2.74)(5.249,2.58)(5.268,2.42)(5.288,2.29)(5.302,2.15)(5.317,1.89)(5.331,1.76)(5.346,1.44)(5.36,1.11)(5.378,1.72)(5.394,1.31)(5.408,1.04)(5.42,nan)
(5.442,1.12)(5.459,1.52)(5.475,1.15)(5.48,nan)
(5.553,1.76)(5.563,2.21)(5.576,1.05)(5.592,2.49)(5.606,2.55)(5.626,2.11)(5.63,nan)
(5.66,1.62)(5.674,1.77)(5.694,1.73)(5.71,1.05)(5.72,nan)
(5.751,1.28)(5.775,2.0)(5.79,1.27)(5.809,1.23)(5.824,1.04)(5.83,nan)
(5.892,2.6)(5.906,1.04)(5.926,1.84)(5.943,2.21)(5.957,2.74)(5.974,1.33)(5.993,1.13)(6.008,1.13)};
\addplot[only marks, mark=x, mark size=2.2pt, dorange, line width=1.7pt, forget plot] coordinates {(4.125,1.72)(4.325,0.78)};
\addplot[only marks, mark=x, mark size=2.2pt, cpurple, line width=1.7pt, forget plot] coordinates {(4.125,1.33)(4.325,1.09)};
% patches
\addplot[patch, fill=ccyan] coordinates {(3.0,-1)(3.053,-1)(3.053,5)(3.0,5)} -- cycle;
\addplot[patch, fill=cgray] coordinates {(3.053,-1)(3.203,-1)(3.203,5)(3.053,5)} -- cycle;
\addplot[patch, fill=ccyan] coordinates {(3.519,-1)(3.717,-1)(3.717,5)(3.519,5)} -- cycle;
\addplot[patch, fill=cgray] coordinates {(3.767,-1)(3.801,-1)(3.801,5)(3.767,5)} -- cycle;
\addplot[patch, fill=cgray] coordinates {(4.002,-1)(4.017,-1)(4.017,5)(4.002,5)} -- cycle;
\addplot[patch, fill=cgray] coordinates {(4.317,-1)(4.333,-1)(4.333,5)(4.317,5)} -- cycle;
\addplot[patch, fill=cgray] coordinates {(4.569,-1)(4.584,-1)(4.584,5)(4.569,5)} -- cycle;
\addplot[patch, fill=cgray] coordinates {(4.652,-1)(4.685,-1)(4.685,5)(4.652,5)} -- cycle;
\addplot[patch, fill=ccyan] coordinates {(4.868,-1)(4.967,-1)(4.967,5)(4.868,5)} -- cycle;
\addplot[patch, fill=ccyan] coordinates {(5.0,-1)(5.05,-1)(5.05,5)(5.0,5)} -- cycle;
\addplot[patch, fill=ccyan] coordinates {(5.118,-1)(5.384,-1)(5.384,5)(5.118,5)} -- cycle;
\addplot[patch, fill=cgray] coordinates {(5.401,-1)(5.45,-1)(5.45,5)(5.401,5)} -- cycle;
\addplot[patch, fill=cgray] coordinates {(5.467,-1)(5.484,-1)(5.484,5)(5.467,5)} -- cycle;
\addplot[patch, fill=cgray] coordinates {(5.567,-1)(5.6,-1)(5.6,5)(5.567,5)} -- cycle;
\addplot[patch, fill=cgray] coordinates {(5.7,-1)(5.75,-1)(5.75,5)(5.7,5)} -- cycle;
\addplot[patch, fill=cgray] coordinates {(5.817,-1)(5.866,-1)(5.866,5)(5.817,5)} -- cycle;
\addplot[patch, fill=cgray] coordinates {(5.9,-1)(5.935,-1)(5.935,5)(5.9,5)} -- cycle;
\addplot[patch, fill=ccyan] coordinates {(5.997,-1)(6.01,-1)(6.01,5)(5.997,5)} -- cycle;
\end{axis}

% ---------------- Panel 5 ----------------
\begin{axis}[panel, at={(2.485cm,1.977cm)}, ymin=-0.5, ymax=11.5,
  ytick={0,2,4,6,8,10},
  ylabel={MWR Phy Iter DQ Flag}]
\addplot[only marks, mark=*, mark size=0.95pt, color=dorange, forget plot] coordinates {
(3.212,0)(3.229,0)(3.245,0)(3.262,0)(3.279,0)(3.295,0)(3.312,0)(3.329,0)(3.345,0)(3.362,0)(3.379,0)(3.395,0)(3.412,0)(3.429,0)(3.445,0)(3.462,0)(3.479,0)(3.496,0)
(3.727,0)(3.744,0)(3.761,0)
(3.811,0)(3.827,0)(3.844,0)(3.861,0)(3.877,0)(3.894,0)(3.911,0)(3.927,0)(3.944,0)(3.961,0)(3.977,0)(3.994,0)
(4.028,0)(4.044,0)(4.061,0)(4.078,0)(4.094,0)(4.111,0)(4.128,0)(4.144,0)(4.161,0)(4.178,0)(4.194,0)(4.211,0)(4.228,0)(4.244,0)(4.261,0)(4.278,0)(4.294,0)(4.311,0)
(4.345,0)(4.361,0)(4.378,0)(4.395,0)(4.411,0)(4.428,0)(4.445,0)(4.461,0)(4.478,0)(4.495,0)(4.511,0)(4.528,0)(4.545,0)(4.561,0)
(4.596,0)(4.612,0)(4.629,0)(4.646,0)
(4.696,0)(4.712,0)(4.729,0)(4.746,0)(4.762,0)(4.779,0)(4.796,0)(4.812,0)
(4.846,0)(4.862,0)(4.979,0)(4.995,0)(5.062,0)(5.079,0)(5.112,0)(5.396,0)(5.462,0)
(5.496,0)(5.512,0)(5.529,0)(5.546,0)(5.562,0)
(5.612,0)(5.629,0)(5.646,0)(5.662,0)(5.679,0)(5.696,0)
(5.762,0)(5.779,0)(5.796,0)(5.812,0)(5.879,0)(5.896,0)(5.962,0)(5.979,0)(5.996,0)
(3.028,3)(3.045,3)(3.062,3)(3.078,3)(3.095,3)(3.112,3)(3.128,3)(3.192,3)(4.579,3)(4.662,3)(5.426,3)(5.729,3)
(3.145,4)(3.162,4)(3.178,4)(3.779,4)(3.795,4)(4.012,4)(4.328,4)(4.679,4)(5.412,4)(5.445,4)(5.479,4)(5.579,4)(5.595,4)(5.712,4)(5.745,4)(5.829,4)(5.845,4)(5.862,4)(5.912,4)(5.929,4)(5.945,4)(6.005,4)
(3.512,6)(3.545,6)(4.829,6)(4.895,6)(4.912,6)(4.929,6)(5.012,6)(5.029,6)(5.095,6)(5.129,6)(5.145,6)(5.179,6)(5.195,6)(5.212,6)(5.595,6)
(5.179,7)(5.195,7)(5.212,7)(5.229,7)
(3.529,9)(4.895,9)(4.912,9)(5.029,9)(5.129,9)(5.145,9)(5.162,9)
(3.529,10)(3.545,10)(3.562,10)(3.629,10)(4.879,10)(4.895,10)(4.912,10)(4.929,10)(5.012,10)(5.029,10)(5.129,10)(5.145,10)(5.162,10)
(3.012,11)(3.029,11)(3.045,11)
(3.529,11)(3.545,11)(3.562,11)(3.579,11)(3.595,11)(3.612,11)(3.629,11)(3.645,11)(3.662,11)(3.679,11)(3.695,11)(3.712,11)
(4.879,11)(4.895,11)(4.912,11)(4.929,11)(4.945,11)(4.962,11)(5.012,11)(5.029,11)(5.045,11)
(5.129,11)(5.145,11)(5.162,11)(5.179,11)(5.195,11)(5.212,11)(5.229,11)(5.245,11)(5.262,11)(5.279,11)(5.295,11)(5.312,11)(5.329,11)(5.345,11)(5.362,11)(5.379,11)};
\end{axis}
\end{tikzpicture}
\end{document}
